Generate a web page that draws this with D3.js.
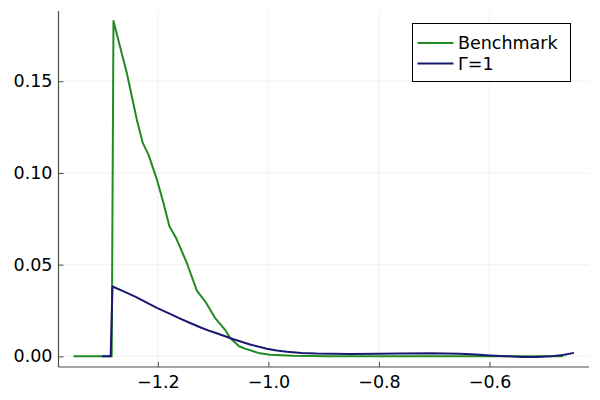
<!DOCTYPE html>
<html>
<head>
<meta charset="utf-8">
<script src="https://cdn.jsdelivr.net/npm/d3@7"></script>
<style>
  body { margin: 0; background: #fff; }
  svg { display: block; font-family: "DejaVu Sans", sans-serif; }
</style>
</head>
<body>
<svg id="chart" width="600" height="400"></svg>
<script>
// Benchmark (green) density
const benchX = [-1.3526, -1.2835, -1.2803, -1.2561, -1.238, -1.2275, -1.217, -1.2018, -1.1899, -1.179,
  -1.167, -1.1597, -1.1476, -1.1295, -1.1145, -1.0964, -1.0783, -1.0693, -1.0530, -1.0421,
  -1.0181, -0.9969, -0.9553, -0.8884, -0.80, -0.70, -0.60, -0.5300, -0.4671];
const benchY = [0, 0, 0.1828, 0.1544, 0.129, 0.1165, 0.110, 0.0965, 0.0836, 0.0708,
  0.0645, 0.0595, 0.0509, 0.0358, 0.0300, 0.0209, 0.0145, 0.0100, 0.0055, 0.0042,
  0.0019, 0.0009, 0.0004, 0.0001, 0, 0, 0, 0, 0];

// Γ=1 (navy)
const gammaX = [-1.3013, -1.2854, -1.2821, -1.262, -1.241, -1.221, -1.2018, -1.180, -1.1597, -1.1415,
  -1.1235, -1.1055, -1.0873, -1.0633, -1.0331, -1.0029, -0.985, -0.9667, -0.940, -0.9125,
  -0.8523, -0.8000, -0.7618, -0.7076, -0.6533, -0.6250, -0.5991, -0.5700, -0.5394, -0.5150,
  -0.4906, -0.4671, -0.4472];
const gammaY = [0, 0, 0.0381, 0.0354, 0.0326, 0.0294, 0.0264, 0.0234, 0.0206, 0.0182,
  0.0159, 0.0138, 0.0119, 0.0093, 0.0065, 0.0042, 0.0032, 0.0025, 0.0019, 0.0015,
  0.0013, 0.0014, 0.0016, 0.0017, 0.0014, 0.0010, 0.0005, 0.0001, -0.0003, -0.0003,
  0.0, 0.0008, 0.0019];

const xTicks = [-1.2, -1.0, -0.8, -0.6];
const yTicks = [0.00, 0.05, 0.10, 0.15];
const seriesNames = ["Benchmark", "Γ=1"];
const seriesColors = ["#228b22", "#191970"];

const svg = d3.select("#chart");
const pLeft = 58.5, pRight = 589, pTop = 11, pBottom = 367;

// widen data extent by 3% each side like Plots does
function widen(ext) {
  const pad = (ext[1] - ext[0]) * 0.03;
  return [ext[0] - pad, ext[1] + pad];
}
const x = d3.scaleLinear()
  .domain(widen(d3.extent(benchX.concat(gammaX))))
  .range([pLeft, pRight]);
const y = d3.scaleLinear()
  .domain(widen(d3.extent(benchY.concat(gammaY))))
  .range([pBottom, pTop]);

// grid
svg.append("g").selectAll("line").data(xTicks).enter().append("line")
  .attr("x1", d => x(d)).attr("x2", d => x(d))
  .attr("y1", pTop).attr("y2", pBottom)
  .attr("stroke", "#000").attr("stroke-opacity", 0.1).attr("stroke-width", 0.6);
svg.append("g").selectAll("line").data(yTicks).enter().append("line")
  .attr("x1", pLeft).attr("x2", pRight)
  .attr("y1", d => y(d)).attr("y2", d => y(d))
  .attr("stroke", "#000").attr("stroke-opacity", 0.1).attr("stroke-width", 0.6);

const fmtX = d => d3.format(".1f")(d).replace("-", "\u2212");
const fmtY = d3.format(".2f");

// axes (ticks point inside)
const xAxis = svg.append("g")
  .attr("transform", "translate(0," + pBottom + ")")
  .call(d3.axisBottom(x).tickValues(xTicks).tickFormat(fmtX).tickSizeInner(-5).tickSizeOuter(0).tickPadding(9));
const yAxis = svg.append("g")
  .attr("transform", "translate(" + pLeft + ",0)")
  .call(d3.axisLeft(y).tickValues(yTicks).tickFormat(fmtY).tickSizeInner(-5).tickSizeOuter(0).tickPadding(6));

[xAxis, yAxis].forEach(g => {
  g.select(".domain").attr("stroke", "#4d4d4d").attr("stroke-width", 1.2);
  g.selectAll(".tick line").attr("stroke", "#4d4d4d").attr("stroke-width", 1);
  g.selectAll("text").attr("font-family", "DejaVu Sans").attr("font-size", 17.5).attr("fill", "#000");
});
xAxis.select(".domain").attr("d", "M" + pLeft + ",0H" + pRight);
yAxis.select(".domain").attr("d", "M0," + pTop + "V" + pBottom);

// lines
const bench = benchX.map((d, i) => [d, benchY[i]]);
const gamma = gammaX.map((d, i) => [d, gammaY[i]]);
const line = d3.line().x(d => x(d[0])).y(d => y(d[1]));

svg.append("path").datum(bench)
  .attr("fill", "none").attr("stroke", seriesColors[0]).attr("stroke-width", 2)
  .attr("stroke-linejoin", "round")
  .attr("d", line);

svg.append("path").datum(gamma)
  .attr("fill", "none").attr("stroke", seriesColors[1]).attr("stroke-width", 2)
  .attr("stroke-linejoin", "round")
  .attr("d", line);

// legend
const lg = svg.append("g").attr("transform", "translate(412.5,23.5)");
lg.append("rect").attr("width", 158).attr("height", 58)
  .attr("fill", "#fff").attr("stroke", "#000").attr("stroke-width", 1);
seriesNames.forEach((name, i) => {
  const ry = 19.5 + i * 20.5;
  lg.append("line").attr("x1", 5).attr("x2", 41).attr("y1", ry).attr("y2", ry)
    .attr("stroke", seriesColors[i]).attr("stroke-width", 2);
  lg.append("text").attr("x", 45.5).attr("y", ry).attr("dy", "0.35em")
    .attr("font-size", 17.5).attr("fill", "#000").text(name);
});
</script>
</body>
</html>
